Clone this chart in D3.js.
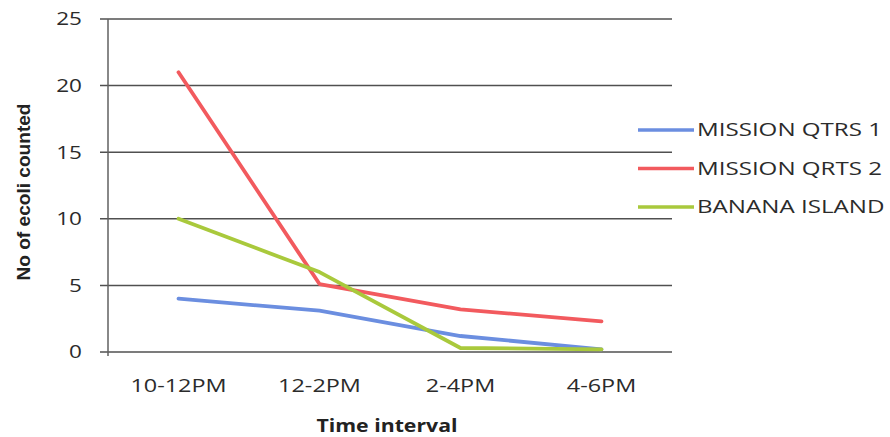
<!DOCTYPE html>
<html><head><meta charset="utf-8">
<script src="https://cdn.jsdelivr.net/npm/d3@7"></script>
<style>body{margin:0;background:#fff}svg{display:block}</style>
</head><body>
<svg id="c" width="890" height="437"></svg>
<script>
const categories = ["10-12PM", "12-2PM", "2-4PM", "4-6PM"];
const seriesNames = ["MISSION QTRS 1", "MISSION QRTS 2", "BANANA ISLAND"];
const missionQtrs1 = [4.0, 3.1, 1.2, 0.2];
const missionQrts2 = [21.0, 5.1, 3.2, 2.3];
const bananaIsland = [10.0, 6.0, 0.3, 0.2];
const yTicks = [0, 5, 10, 15, 20, 25];
const colors = ["#6b8ee0", "#f25a5e", "#a9c93c"];
const series = [missionQtrs1, missionQrts2, bananaIsland];

const svg = d3.select("#c");
const mLeft = 108, mRight = 672, mTop = 19, mBottom = 352;
const STRETCH = 1.3;

const x = d3.scaleBand().domain(categories).range([mLeft, mRight]);
const y = d3.scaleLinear().domain([0, 25]).range([mBottom, mTop]);

function fitWidth(sel, w) {
  sel.each(function (d) {
    const target = typeof w === "function" ? w(d, this) : w;
    this.setAttribute("textLength", target);
    this.setAttribute("lengthAdjust", "spacingAndGlyphs");
  });
}
function stretch(sel, f) {
  sel.each(function () {
    const w = this.getComputedTextLength();
    this.setAttribute("textLength", w * (f || STRETCH));
    this.setAttribute("lengthAdjust", "spacingAndGlyphs");
  });
}

// gridlines
svg.append("g").selectAll("line").data(yTicks).join("line")
  .attr("x1", mLeft - 8).attr("x2", mRight)
  .attr("y1", d => y(d)).attr("y2", d => y(d))
  .attr("stroke", "#505050").attr("stroke-width", 1.5);
// y axis line
svg.append("line").attr("x1", mLeft).attr("x2", mLeft)
  .attr("y1", y(25)).attr("y2", y(0) + 4)
  .attr("stroke", "#606060").attr("stroke-width", 1.5);

const txtFill = "#2b2b2b";
// y tick labels
svg.append("g").selectAll("text").data(yTicks).join("text")
  .attr("x", 82).attr("y", d => y(d)).attr("dy", "0.36em")
  .attr("text-anchor", "end")
  .style("font-family", "'Open Sans', sans-serif").style("font-size", "18px").style("fill", txtFill)
  .text(d => d).call(stretch, 1.25);

// x labels
svg.append("g").selectAll("text").data(categories).join("text")
  .attr("x", d => x(d) + x.bandwidth() / 2).attr("y", 392)
  .attr("text-anchor", "middle")
  .style("font-family", "'Open Sans', sans-serif").style("font-size", "18px").style("fill", txtFill)
  .text(d => d).call(stretch, 1.3);

// axis titles
svg.append("text").attr("x", 387).attr("y", 432).attr("text-anchor", "middle")
  .style("font-family", "'Open Sans', sans-serif").style("font-size", "17px").style("font-weight", "bold").style("fill", "#222")
  .text("Time interval").call(stretch, 1.25);
svg.append("text").attr("transform", "translate(30,192) rotate(-90)").attr("text-anchor", "middle")
  .style("font-family", "'Liberation Sans', Arial, sans-serif").style("font-size", "18px").style("font-weight", "bold").style("fill", "#222")
  .text("No of ecoli counted").call(stretch, 1.06);

// lines
const line = d3.line().x((d, i) => x(categories[i]) + x.bandwidth() / 2).y(d => y(d));
series.forEach((s, k) => {
  svg.append("path").datum(s).attr("d", line)
    .attr("fill", "none").attr("stroke", colors[k]).attr("stroke-width", 3.8)
    .attr("stroke-linejoin", "round").attr("stroke-linecap", "round");
});

// legend
const legY = d3.scalePoint().domain(seriesNames).range([130, 207]);
const leg = svg.append("g").selectAll("g").data(seriesNames).join("g")
  .attr("transform", d => `translate(0,${legY(d)})`);
leg.append("line").attr("x1", 638).attr("x2", 694).attr("y1", 0).attr("y2", 0)
  .attr("stroke", (d, i) => colors[i]).attr("stroke-width", 3.5);
leg.append("text").attr("x", 697).attr("y", 0).attr("dy", "0.36em")
  .style("font-family", "'Open Sans', sans-serif").style("font-size", "18px").style("fill", txtFill)
  .text(d => d).call(stretch, 1.34);
</script>
</body></html>
